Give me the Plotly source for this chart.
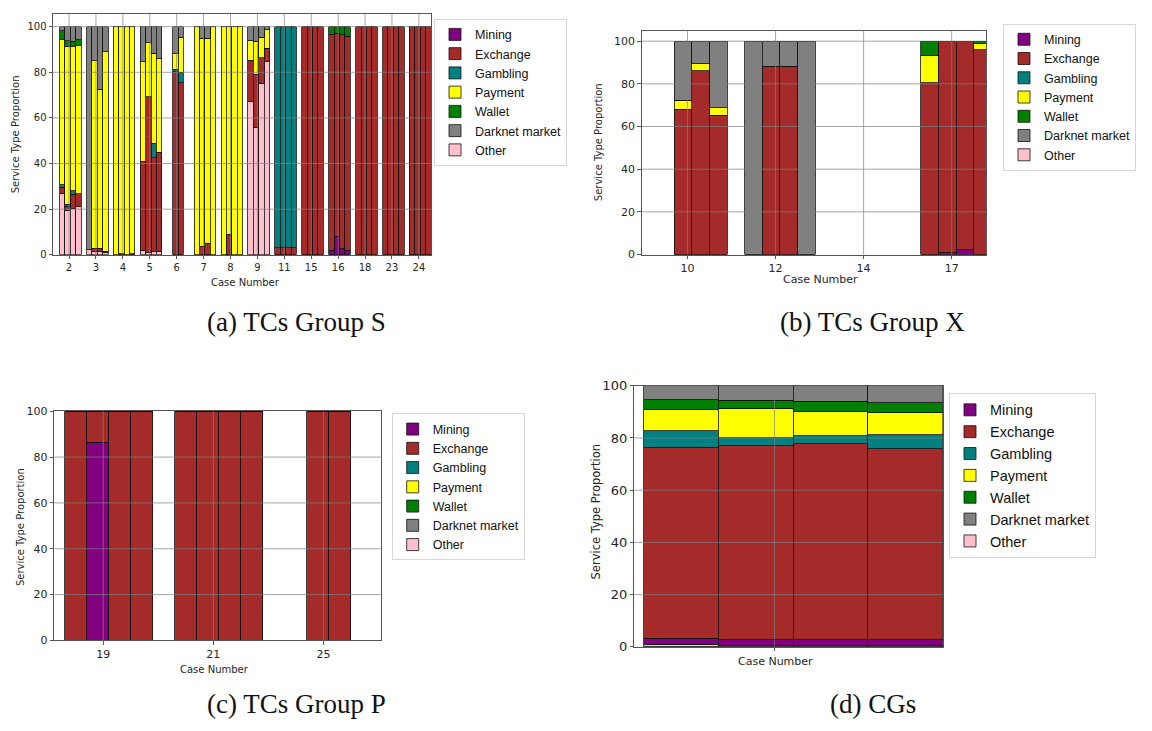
import plotly.graph_objects as go

# ---------------------------------------------------------------------------
# Service categories (stacking order, bottom to top) and their colours
# ---------------------------------------------------------------------------
services = ["Other", "Mining", "Exchange", "Gambling", "Payment", "Wallet", "Darknet market"]
colors = {
    "Mining": "#800080",
    "Exchange": "#a52a2a",
    "Gambling": "#008080",
    "Payment": "#ffff00",
    "Wallet": "#008000",
    "Darknet market": "#808080",
    "Other": "#ffc0cb",
}
legend_rank = {"Mining": 1, "Exchange": 2, "Gambling": 3, "Payment": 4,
               "Wallet": 5, "Darknet market": 6, "Other": 7}

N = None  # empty bar slot

# ---------------------------------------------------------------------------
# (a) TCs Group S  -- four bar slots per case
# ---------------------------------------------------------------------------
cases_a = ["2", "3", "4", "5", "6", "7", "8", "9", "11", "15", "16", "18", "23", "24"]
a_other = [[27, 19.5, 20.5, 21], [2.2, 1.5, 1.3, 1.0], [0, 0, 0, 0], [2.0, 1.0, 1.5, 1.5],
           [N, 0, 0, N], [0, 0, 0, 0], [0, 0, 0, 0], [67.2, 55.9, 75.2, 84.5],
           [0, 0, 0, 0], [0, 0, 0, 0], [0, 0, 0, 0], [0, 0, 0, 0], [0, 0, 0, 0], [0, 0, 0, 0]]
a_mining = [[0, 0, 0, 0], [0, 0, 0, 0], [0, 0, 0, 0], [0, 0, 0, 0],
            [N, 0, 0, N], [0, 0, 0, 0], [0, 0, 0, 0], [0, 0, 0, 0],
            [0, 0, 0, 0], [0, 0, 0, 0], [2.1, 8.1, 2.7, 2.1], [0, 0, 0, 0], [0, 0, 0, 0], [0, 0, 0, 0]]
a_exchange = [[2.5, 1.5, 6.0, 5.8], [0, 1.3, 1.5, 0.5], [0, 0.5, 0, 0.5], [39.1, 68.3, 41.1, 43.5],
              [N, 80.5, 75.4, N], [0, 3.7, 5.1, 0], [0, 9.0, 0, 0], [18.0, 23.3, 11.2, 6.0],
              [3, 3, 3, 3], [100, 100, 100, 100], [94.5, 89.1, 93.7, 93.6],
              [100, 100, 100, 100], [100, 100, 100, 100], [100, 100, 100, 100]]
a_gambling = [[1.2, 1.2, 1.5, 0], [0, 0, 0, 0], [0, 0, 0, 0], [0, 0, 6.4, 0],
              [N, 0.9, 4.6, N], [0, 0, 0, 0], [0, 0, 0, 0], [0, 0, 0, 0],
              [97, 97, 97, 97], [0, 0, 0, 0], [0, 0, 0, 0], [0, 0, 0, 0], [0, 0, 0, 0], [0, 0, 0, 0]]
a_payment = [[63.6, 69.2, 63.1, 64.9], [0, 82.2, 69.8, 87.5], [100, 99.5, 100, 99.5], [43.6, 23.6, 39.4, 41.0],
             [N, 6.7, 15.3, N], [100, 91.2, 89.8, 100], [100, 91.0, 100, 100], [8.7, 14.4, 9.0, 8.1],
             [0, 0, 0, 0], [0, 0, 0, 0], [0, 0, 0, 0], [0, 0, 0, 0], [0, 0, 0, 0], [0, 0, 0, 0]]
a_wallet = [[4.0, 2.5, 2.5, 2.6], [0, 0, 0, 0], [0, 0, 0, 0], [0, 0, 0, 0],
            [N, 0, 0, N], [0, 0, 0, 0], [0, 0, 0, 0], [0, 0, 0, 0],
            [0, 0, 0, 0], [0, 0, 0, 0], [3.4, 2.8, 3.6, 4.3], [0, 0, 0, 0], [0, 0, 0, 0], [0, 0, 0, 0]]
a_darknet = [[1.7, 6.1, 6.4, 5.7], [97.8, 15.0, 27.4, 11.0], [0, 0, 0, 0], [15.3, 7.1, 11.7, 14.0],
             [N, 11.9, 4.7, N], [0, 5.1, 5.1, 0], [0, 0, 0, 0], [6.1, 6.4, 4.6, 1.4],
             [0, 0, 0, 0], [0, 0, 0, 0], [0, 0, 0, 0], [0, 0, 0, 0], [0, 0, 0, 0], [0, 0, 0, 0]]

# ---------------------------------------------------------------------------
# (b) TCs Group X
# ---------------------------------------------------------------------------
cases_b = ["10", "12", "14", "17"]
b_other = [[N, 0, 0, 0], [0, 0, 0, 0], [N, N, N, N], [0, 0, 0, 0]]
b_mining = [[N, 0, 0, 0], [0, 0, 0, 0], [N, N, N, N], [0, 0.9, 2.3, 0]]
b_exchange = [[N, 68.2, 86.1, 65.2], [0, 88.2, 88.2, 0], [N, N, N, N], [80.6, 98.8, 97.4, 96.0]]
b_gambling = [[N, 0, 0, 0], [0, 0, 0, 0], [N, N, N, N], [0, 0, 0, 0]]
b_payment = [[N, 4.2, 3.2, 3.7], [0, 0, 0, 0], [N, N, N, N], [12.9, 0, 0, 2.7]]
b_wallet = [[N, 0, 0, 0], [0, 0, 0, 0], [N, N, N, N], [6.5, 0, 0, 1.3]]
b_darknet = [[N, 27.6, 10.7, 31.1], [100, 11.8, 11.8, 100], [N, N, N, N], [0, 0, 0, 0]]

# ---------------------------------------------------------------------------
# (c) TCs Group P
# ---------------------------------------------------------------------------
cases_c = ["19", "21", "25"]
c_other = [[0, 0, 0, 0], [0, 0, 0, 0], [N, 0, 0, N]]
c_mining = [[0, 86.5, 0, 0], [0, 0, 0, 0], [N, 0, 0, N]]
c_exchange = [[100, 13.5, 100, 100], [100, 100, 100, 100], [N, 100, 100, N]]
c_gambling = [[0, 0, 0, 0], [0, 0, 0, 0], [N, 0, 0, N]]
c_payment = [[0, 0, 0, 0], [0, 0, 0, 0], [N, 0, 0, N]]
c_wallet = [[0, 0, 0, 0], [0, 0, 0, 0], [N, 0, 0, N]]
c_darknet = [[0, 0, 0, 0], [0, 0, 0, 0], [N, 0, 0, N]]

# ---------------------------------------------------------------------------
# (d) CGs
# ---------------------------------------------------------------------------
cases_d = [""]
d_other = [[1.0, 0.5, 0.5, 0.5]]
d_mining = [[2.4, 2.4, 2.4, 2.4]]
d_exchange = [[73.1, 74.2, 74.85, 73.0]]
d_gambling = [[6.25, 2.9, 3.15, 5.35]]
d_payment = [[8.15, 11.25, 9.35, 8.5]]
d_wallet = [[3.7, 3.15, 3.85, 3.65]]
d_darknet = [[5.4, 5.6, 5.9, 6.6]]

# bar slot layout inside each case group
slot_offsets = [-0.25, -0.05, 0.15, 0.35]
bar_width = 0.2

panels = [
    dict(key="", cases=cases_a, xrange=[-0.595, 13.45], yrange=[0, 105.6],
         data=[a_other, a_mining, a_exchange, a_gambling, a_payment, a_wallet, a_darknet],
         xdom=[53 / 1152, 431 / 1152], ydom=[1 - 253 / 731, 1 - 7 / 731],
         grid_y=[20, 40, 60, 80, 100], tick_size=10,
         legend=dict(x=434 / 1152, y=1 - 12 / 731, size=12.5),
         ytitle=dict(x=15, y=130, size=10), xtitle=dict(x=245, y=281, size=10),
         caption=dict(text="(a) TCs Group S", x=296, y=322)),
    dict(key="2", cases=cases_b, xrange=[-0.52, 3.39], yrange=[0, 105],
         data=[b_other, b_mining, b_exchange, b_gambling, b_payment, b_wallet, b_darknet],
         xdom=[641.7 / 1152, 986 / 1152], ydom=[1 - 252.7 / 731, 1 - 24 / 731],
         grid_y=[20, 40, 60, 80, 100], tick_size=11,
         legend=dict(x=1003 / 1152, y=1 - 17 / 731, size=12.5),
         ytitle=dict(x=598, y=138, size=10), xtitle=dict(x=820, y=278, size=11),
         caption=dict(text="(b) TCs Group X", x=872, y=322)),
    dict(key="3", cases=cases_c, xrange=[-0.445, 2.52], yrange=[0, 100],
         data=[c_other, c_mining, c_exchange, c_gambling, c_payment, c_wallet, c_darknet],
         xdom=[54.3 / 1152, 380.7 / 1152], ydom=[1 - 646.7 / 731, 1 - 412.7 / 731],
         grid_y=[20, 40, 60, 80], tick_size=11,
         legend=dict(x=391.7 / 1152, y=1 - 415 / 731, size=12.5),
         ytitle=dict(x=20, y=531, size=10), xtitle=dict(x=214, y=676, size=10),
         caption=dict(text="(c) TCs Group P", x=296, y=712)),
    dict(key="4", cases=cases_d, xrange=[-0.375, 0.45], yrange=[0, 100],
         data=[d_other, d_mining, d_exchange, d_gambling, d_payment, d_wallet, d_darknet],
         xdom=[634.3 / 1152, 942.7 / 1152], ydom=[1 - 653.3 / 731, 1 - 386.7 / 731],
         grid_y=[20, 40, 60, 80], tick_size=13,
         legend=dict(x=949 / 1152, y=1 - 394 / 731, size=14.5),
         ytitle=dict(x=596, y=515, size=11.5), xtitle=dict(x=775, y=668, size=11),
         caption=dict(text="(d) CGs", x=873, y=712)),
]

W, H = 1152, 731
fig = go.Figure()
shapes, annotations, layout = [], [], {}
GRID = "rgba(128,128,128,0.7)"
TEXT = "#262626"

for p in panels:
    k = p["key"]
    xa, ya = "x" + k, "y" + k
    leg = "legend" + k
    for name, series in zip(services, p["data"]):
        xs, ys = [], []
        for ci, group in enumerate(series):
            for si, v in enumerate(group):
                xs.append(ci + slot_offsets[si])
                ys.append(v)
        fig.add_trace(go.Bar(
            x=xs, y=ys, width=bar_width, name=name,
            marker=dict(color=colors[name], line=dict(color="#111111", width=0.8)),
            xaxis=xa, yaxis=ya, legend=leg, legendrank=legend_rank[name],
            showlegend=True,
        ))

    tickvals = list(range(len(p["cases"])))
    axis_common = dict(showline=True, mirror=True, linecolor="#555555", linewidth=1,
                       ticks="outside", ticklen=3.5, tickcolor="#555555",
                       showgrid=False, zeroline=False,
                       tickfont=dict(family="DejaVu Sans", size=p["tick_size"], color=TEXT))
    layout["xaxis" + k] = dict(axis_common, domain=p["xdom"], range=p["xrange"],
                               tickmode="array", tickvals=tickvals, ticktext=p["cases"],
                               anchor=ya)
    layout["yaxis" + k] = dict(axis_common, domain=p["ydom"], range=p["yrange"],
                               tickmode="array", tickvals=[0, 20, 40, 60, 80, 100],
                               anchor=xa)
    layout[leg] = dict(x=p["legend"]["x"], y=p["legend"]["y"], xanchor="left", yanchor="top",
                       bordercolor="#d6d6d6", borderwidth=1, bgcolor="white",
                       traceorder="normal",
                       font=dict(family="Liberation Sans", size=p["legend"]["size"], color="#111111"),
                       tracegroupgap=0)

    # grid lines drawn over the bars
    for gy in p["grid_y"]:
        shapes.append(dict(type="line", xref=xa + " domain", yref=ya, x0=0, x1=1, y0=gy, y1=gy,
                           line=dict(color=GRID, width=1), layer="above"))
    for tv in tickvals:
        shapes.append(dict(type="line", xref=xa, yref=ya + " domain", x0=tv, x1=tv, y0=0, y1=1,
                           line=dict(color=GRID, width=1), layer="above"))

    annotations.append(dict(text="Service Type Proportion", textangle=-90, showarrow=False,
                            xref="paper", yref="paper",
                            x=p["ytitle"]["x"] / W, y=1 - p["ytitle"]["y"] / H,
                            xanchor="center", yanchor="middle",
                            font=dict(family="DejaVu Sans", size=p["ytitle"]["size"], color=TEXT)))
    annotations.append(dict(text="Case Number", showarrow=False, xref="paper", yref="paper",
                            x=p["xtitle"]["x"] / W, y=1 - p["xtitle"]["y"] / H,
                            xanchor="center", yanchor="middle",
                            font=dict(family="DejaVu Sans", size=p["xtitle"]["size"], color=TEXT)))
    annotations.append(dict(text=p["caption"]["text"], showarrow=False, xref="paper", yref="paper",
                            x=p["caption"]["x"] / W, y=1 - p["caption"]["y"] / H,
                            xanchor="center", yanchor="middle",
                            font=dict(family="Liberation Serif", size=27, color="#111111")))

fig.update_layout(
    width=W, height=H, margin=dict(l=0, r=0, t=0, b=0),
    paper_bgcolor="white", plot_bgcolor="white",
    barmode="stack", shapes=shapes, annotations=annotations, **layout,
)

fig.write_html("out.html")
